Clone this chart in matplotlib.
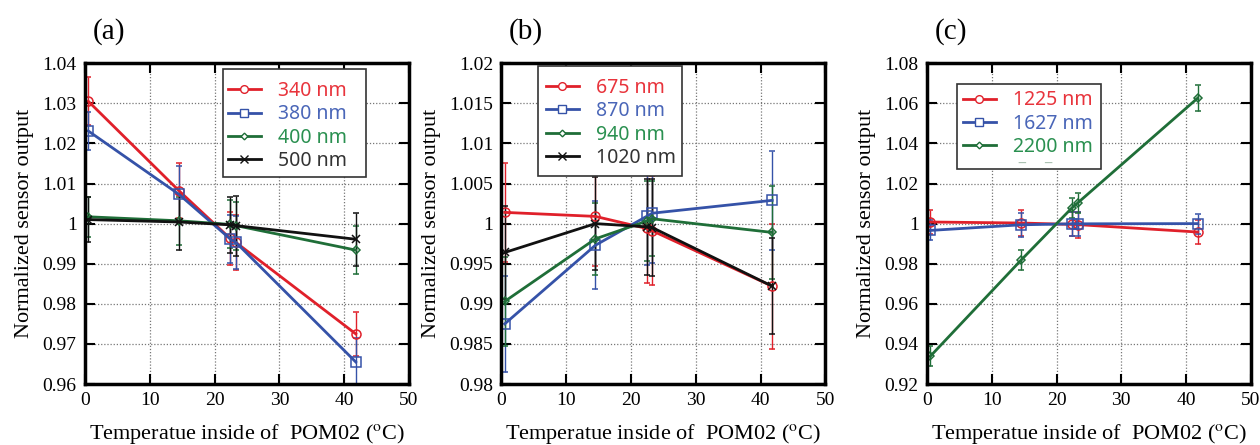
import numpy as np
import matplotlib
matplotlib.use('agg')
import matplotlib.pyplot as plt
from matplotlib.lines import Line2D
from matplotlib.patches import Rectangle
from matplotlib.ticker import MultipleLocator, FuncFormatter

plt.rcParams['font.family'] = 'Liberation Serif'
plt.rcParams['mathtext.fontset'] = 'stix'

# temperatures inside POM02 (deg C)
temp = [0.5, 14.5, 22.4, 23.3, 41.8]

# panel (a)
labels_a = ['340 nm', '380 nm', '400 nm', '500 nm']
y340 = [1.0305, 1.0082, 0.9963, 0.9953, 0.9725]
e340 = [0.006, 0.0068, 0.0065, 0.0068, 0.0055]
y380 = [1.0231, 1.0073, 0.9962, 0.9953, 0.9655]
e380 = [0.0048, 0.007, 0.006, 0.0065, 0.006]
y400 = [1.0017, 1.0007, 0.9998, 0.9995, 0.9934]
e400 = [0.005, 0.006, 0.006, 0.006, 0.006]
y500 = [1.0010, 1.0004, 0.9997, 0.9995, 0.9961]
e500 = [0.0057, 0.007, 0.007, 0.0075, 0.0066]

# panel (b)
labels_b = ['675 nm', '870 nm', '940 nm', '1020 nm']
y675 = [1.0014, 1.0009, 0.9994, 0.9991, 0.9922]
e675 = [0.0062, 0.0062, 0.0068, 0.0068, 0.0078]
y870 = [0.9875, 0.9973, 1.0009, 1.0013, 1.0029]
e870 = [0.006, 0.0055, 0.006, 0.0062, 0.0062]
y940 = [0.9903, 0.9981, 1.0003, 1.0006, 0.9989]
e940 = [0.0055, 0.0045, 0.005, 0.0047, 0.0058]
y1020 = [0.9964, 1.0000, 0.9996, 0.9995, 0.9922]
e1020 = [0.0058, 0.0058, 0.006, 0.006, 0.006]

# panel (c)
labels_c = ['1225 nm', '1627 nm', '2200 nm']
y1225 = [1.0008, 1.0003, 0.9996, 0.9995, 0.9958]
e1225 = [0.006, 0.0065, 0.006, 0.0065, 0.006]
y1627 = [0.9966, 0.9994, 0.9999, 0.9999, 1.0000]
e1627 = [0.005, 0.006, 0.006, 0.006, 0.005]
y2200 = [0.9338, 0.9817, 1.0079, 1.0104, 1.0626]
e2200 = [0.005, 0.005, 0.005, 0.005, 0.0065]

line_cols = ['#e0202a', '#3552a8', '#1f6e38', '#111111']
text_cols = ['#e8343c', '#4a66b8', '#2a9050', '#333333']
markers = [('o', 6.5), ('s', 6.5), ('D', 4), ('x', 6)]

fig = plt.figure(figsize=(12.6, 4.45), dpi=100)


def panel(left, series, errs, labels, ylim, ystep, box, leg_xy, tag):
    ax = fig.add_axes([left, 0.137, 0.257, 0.721])
    handles = []
    for i, (y, e) in enumerate(zip(series, errs)):
        m, ms = markers[i]
        ax.errorbar(temp, y, yerr=e, color=line_cols[i], lw=2, marker=m, ms=ms,
                    mfc='none', mec=line_cols[i], mew=1.1, elinewidth=1,
                    capsize=2.5, capthick=1)
        handles.append(Line2D([], [], color=line_cols[i], lw=2, marker=m,
                              ms=ms * 0.85, mfc='white', mec=line_cols[i], mew=1))
    ax.set_xlim(0, 50)
    ax.set_ylim(*ylim)
    ax.xaxis.set_major_locator(MultipleLocator(10))
    ax.yaxis.set_major_locator(MultipleLocator(ystep))
    ax.yaxis.set_major_formatter(FuncFormatter(lambda v, p: '%g' % round(v, 4)))
    ax.grid(True, color='#777777', ls=(0, (1, 1.5)), lw=0.9)
    ax.tick_params(direction='in', top=True, right=True, length=7, width=1.5,
                   labelsize=14, pad=6, labelfontfamily='Liberation Serif')
    for s in ax.spines.values():
        s.set_linewidth(2.5)
    ax.set_xlabel(r'Temperatue inside of  POM02 ($^{\rm o}$C)', fontsize=16, labelpad=9)
    ax.set_ylabel('Normalized sensor output', fontsize=16, labelpad=6)
    # legend frame
    x0, y0, x1, y1 = box
    ax.add_patch(Rectangle((x0, y0), x1 - x0, y1 - y0, transform=ax.transAxes,
                           facecolor='white', edgecolor='#333333', lw=1.2, zorder=4.5))
    leg = ax.legend(handles, labels, loc='upper left', bbox_to_anchor=leg_xy,
                    frameon=False, handlelength=1.7, handletextpad=0.9,
                    labelspacing=0.17, borderpad=0, borderaxespad=0,
                    prop={'family': 'Noto Sans', 'size': 14})
    for t, c in zip(leg.get_texts(), text_cols):
        t.set_color(c)
    ax.text(0.075, 1.10, tag, transform=ax.transAxes, fontsize=21, va='center', ha='center')
    return ax


panel(0.0675, [y340, y380, y400, y500], [e340, e380, e400, e500], labels_a,
      (0.96, 1.04), 0.01, (0.425, 0.645, 0.869, 0.981), (0.441, 0.944), '(a)')
panel(0.398, [y675, y870, y940, y1020], [e675, e870, e940, e1020], labels_b,
      (0.98, 1.02), 0.005, (0.114, 0.648, 0.559, 0.991), (0.136, 0.954), '(b)')
ax_c = panel(0.7357, [y1225, y1627, y2200], [e1225, e1627, e2200], labels_c,
             (0.92, 1.08), 0.02, (0.093, 0.670, 0.537, 0.935), (0.111, 0.915), '(c)')
# faint leftover marks inside the (c) legend box
ax_c.text(0.335, 0.688, '\u2012    \u2012', transform=ax_c.transAxes, fontsize=10,
          color='#a8c0b0', family='DejaVu Sans', va='center', ha='center', zorder=6)

fig.savefig('out.png', dpi=100)
